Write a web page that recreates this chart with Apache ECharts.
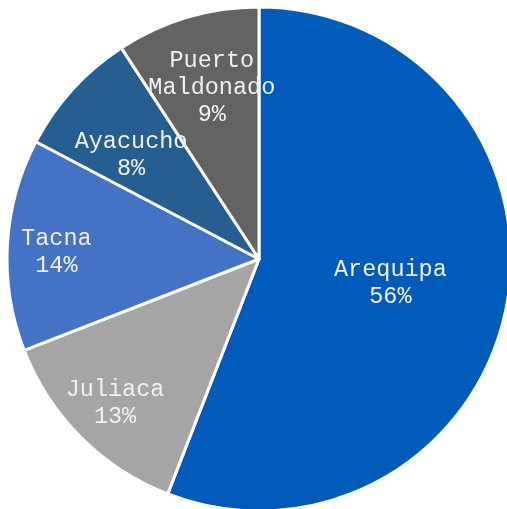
<!DOCTYPE html>
<html>
<head>
<meta charset="utf-8">
<script src="https://cdn.jsdelivr.net/npm/echarts@6/dist/echarts.min.js"></script>
<style>
  html, body { margin: 0; padding: 0; background: #fff; }
  #chart { width: 507px; height: 509px; }
</style>
</head>
<body>
<div id="chart"></div>
<script>
// data (share of total, in %)
const cities = ['Arequipa', 'Juliaca', 'Tacna', 'Ayacucho', 'Puerto Maldonado'];
const shares = [55.9, 13.2, 13.6, 8.1, 9.2];
const colors = ['#005BBB', '#A5A5A5', '#4472C4', '#255E91', '#636363'];

// how far out each label sits (fraction of radius) plus a small pixel nudge
const labelDist = [0.53, 0.8, 0.81, 0.66, 0.71];
const labelNudge = [[-3, -1], [2, -2], [6, 5], [-2, 11], [5, 4]];

const cx = 259, cy = 259, R = 252;

let myChart = echarts.init(document.getElementById('chart'));
const option = {
    backgroundColor: '#fff',
    animation: false,
    series: [
        {
            type: 'pie',
            center: [cx, cy],
            radius: [0, R],
            startAngle: 90,
            clockwise: true,
            avoidLabelOverlap: false,
            minShowLabelAngle: 0,
            data: cities.map((c, i) => ({
                name: c,
                value: shares[i],
                itemStyle: { color: colors[i] }
            })),
            itemStyle: {
                borderColor: '#fff',
                borderWidth: 3
            },
            label: {
                show: true,
                position: 'inside',
                color: '#f2f2f2',
                fontFamily: '"Liberation Mono", "DejaVu Sans Mono", monospace',
                fontSize: 23.5,
                lineHeight: 27,
                align: 'center',
                formatter: function (p) {
                    let name = p.name === 'Puerto Maldonado' ? 'Puerto\nMaldonado' : p.name;
                    return name + '\n' + Math.round(p.percent) + '%';
                }
            },
            labelLine: { show: false },
            labelLayout: function (params) {
                // default inside label sits at half the radius; move it along the same ray
                let r = params.labelRect;
                let lx = r.x + r.width / 2, ly = r.y + r.height / 2;
                let k = labelDist[params.dataIndex] / 0.5;
                let n = labelNudge[params.dataIndex];
                return {
                    x: cx + (lx - cx) * k + n[0],
                    y: cy + (ly - cy) * k + n[1],
                    align: 'center',
                    verticalAlign: 'middle'
                };
            },
            emphasis: { disabled: true }
        }
    ]
};
option && myChart.setOption(option);
</script>
</body>
</html>
